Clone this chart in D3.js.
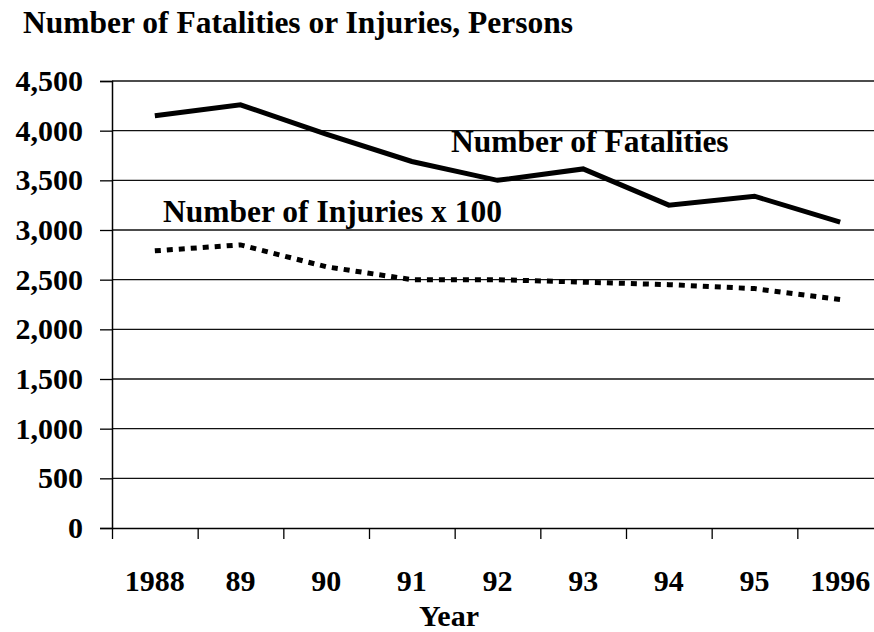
<!DOCTYPE html>
<html>
<head>
<meta charset="utf-8">
<script src="https://cdn.jsdelivr.net/npm/d3@7"></script>
<style>
  body { margin: 0; background: #fff; }
</style>
</head>
<body>
<div id="chart"></div>
<script>
// datos
const years      = ["1988", "89", "90", "91", "92", "93", "94", "95", "1996"];
const fatalities = [4150, 4260, 3965, 3690, 3500, 3615, 3250, 3340, 3080];
const injuries   = [2790, 2850, 2630, 2500, 2500, 2475, 2450, 2410, 2300]; // x 100
const yTicks     = [0, 500, 1000, 1500, 2000, 2500, 3000, 3500, 4000, 4500];

const W = 874, H = 632;
const plot = { left: 112, right: 883, top: 81, bottom: 528 };
const FONT = "Liberation Serif";

const svg = d3.select("#chart").append("svg")
  .attr("width", W)
  .attr("height", H);

// helper para estilo de texto
function bold(sel, size) {
  sel.style("font-family", FONT)
     .style("font-weight", "bold")
     .style("font-size", size + "px")
     .attr("fill", "#000");
}

// escalas
const xIdx = d3.scaleLinear().domain([0, years.length]).range([plot.left, plot.right]);
const xBand = d3.scaleBand().domain(years).range([plot.left, plot.right]).padding(0);
const y = d3.scaleLinear().domain([0, 4500]).range([plot.bottom, plot.top]);

// titulo
svg.append("text")
  .attr("x", 23).attr("y", 33)
  .text("Number of Fatalities or Injuries, Persons")
  .call(bold, 31.5);

// lineas de la grilla
svg.append("g")
  .selectAll("line")
  .data(yTicks.filter(d => d > 0))
  .enter().append("line")
    .attr("x1", plot.left).attr("x2", W)
    .attr("y1", d => y(d)).attr("y2", d => y(d))
    .attr("stroke", "#111")
    .attr("stroke-width", 1.3);

// eje Y
const yAxis = svg.append("g")
  .attr("transform", `translate(${plot.left},0)`)
  .call(d3.axisLeft(y).tickValues(yTicks).tickFormat(d3.format(",")).tickSize(12).tickPadding(17));
yAxis.select(".domain").attr("stroke", "#000").attr("stroke-width", 1.5);
yAxis.selectAll(".tick line").attr("stroke", "#000").attr("stroke-width", 1.3);
yAxis.selectAll("text").call(bold, 30);

// eje X: marcas en los limites
const xAxis = svg.append("g")
  .attr("transform", `translate(0,${plot.bottom})`)
  .call(d3.axisBottom(xIdx).tickValues(d3.range(years.length + 1)).tickFormat("").tickSizeInner(11).tickSizeOuter(0));
xAxis.select(".domain").attr("stroke", "#000").attr("stroke-width", 1.5);
xAxis.selectAll(".tick line").attr("stroke", "#000").attr("stroke-width", 1.3);

// etiquetas X
const xLab = svg.append("g")
  .attr("transform", `translate(0,${plot.bottom})`)
  .call(d3.axisBottom(xBand).tickSize(0).tickPadding(42));
xLab.select(".domain").remove();
xLab.selectAll("text").call(bold, 30);

svg.append("text")
  .attr("x", 449).attr("y", 626)
  .attr("text-anchor", "middle")
  .text("Year")
  .call(bold, 30);

// generador de linea
const line = d3.line()
  .x((d, i) => xIdx(i + 0.5))
  .y(d => y(d));

svg.append("path")
  .datum(fatalities)
  .attr("fill", "none")
  .attr("stroke", "#000")
  .attr("stroke-width", 5)
  .attr("d", line);

svg.append("path")
  .datum(injuries)
  .attr("fill", "none")
  .attr("stroke", "#000")
  .attr("stroke-width", 5)
  .attr("stroke-dasharray", "6,6")
  .attr("d", line);

// rotulos de las series
svg.append("text")
  .attr("x", 451).attr("y", 152)
  .text("Number of Fatalities")
  .call(bold, 31.5);

svg.append("text")
  .attr("x", 163).attr("y", 222)
  .text("Number of Injuries x 100")
  .call(bold, 31.5);
</script>
</body>
</html>
